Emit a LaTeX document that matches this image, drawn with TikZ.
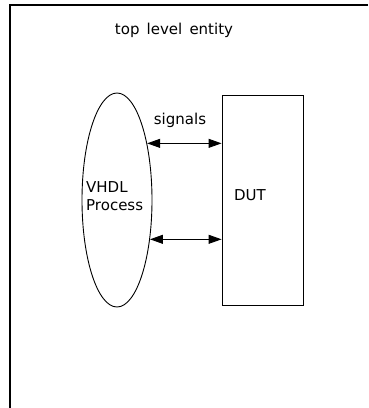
\documentclass[tikz,border=0pt]{standalone}
\usepackage{fontspec}
\setmainfont[WordSpace=1.5]{DejaVu Sans}
\usetikzlibrary{shapes.geometric, arrows.meta}

\begin{document}
\begin{tikzpicture}[
    x=1pt, y=-1pt,
    marco/.style  = {draw=black, line width=1.3pt},
    proceso/.style = {draw=black, ellipse, line width=0.9pt, minimum width=70pt,
                      minimum height=214pt, inner sep=0pt},
    bloque/.style = {draw=black, line width=0.9pt, minimum width=81pt,
                     minimum height=210pt, inner sep=0pt},
    texto/.style  = {font=\fontsize{15}{18}\selectfont, inner sep=0pt},
    senal/.style  = {{Triangle[length=13pt,width=9pt]}-{Triangle[length=13pt,width=9pt]}, line width=0.9pt},
]

% --- Marco ---
\useasboundingbox (0,0) rectangle (368,408);
\draw[marco] (368,5) -- (10,5) -- (10,408);

% --- Bloques ---
\node[proceso] (proc) at (117,200) {};
\node[bloque]  (dut)  at (262.5,200) {};

% --- Textos ---
\node[texto] (titulo) at (174,30) {top level entity};
\node[texto] (senales) at (180,120) {signals};
\node[texto, align=left, anchor=west] (vhdl) at (86,196) {VHDL\\Process};
\node[texto] (dutlbl) at (250,195) {DUT};

% --- Flechas ---
\draw[senal] (proc.62.6) -- (proc.62.6 -| dut.west);
\draw[senal] (proc.-50.9) -- (proc.-50.9 -| dut.west);

\end{tikzpicture}
\end{document}
